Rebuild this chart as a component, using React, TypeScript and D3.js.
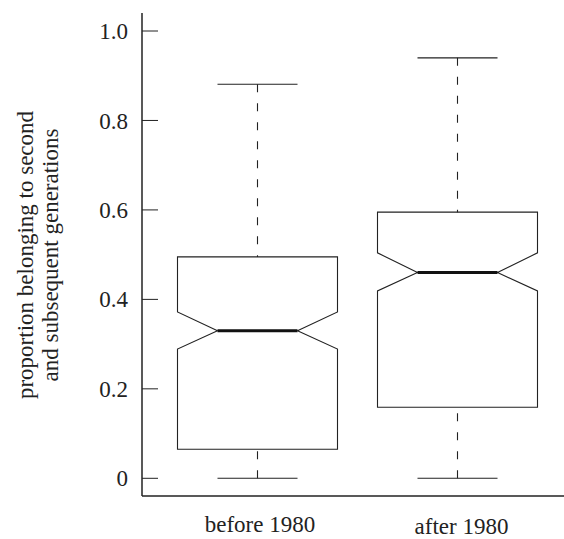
import * as d3 from "d3";
import { useEffect, useRef } from "react";

const categories = ["before 1980", "after 1980"];
const whiskerLow = [0, 0];
const q1 = [0.065, 0.159];
const notchLow = [0.289, 0.419];
const median = [0.33, 0.46];
const notchHigh = [0.372, 0.504];
const q3 = [0.495, 0.595];
const whiskerHigh = [0.881, 0.94];
const tickValues = [0, 0.2, 0.4, 0.6, 0.8, 1.0];
const tickLabels = ["0", "0.2", "0.4", "0.6", "0.8", "1.0"];
const yLabelLines = ["proportion belonging to second", "and subsequent generations"];

const NotchedBoxPlot = () => {
    const ref = useRef<SVGSVGElement>(null);

    useEffect(() => {
        const svg = d3.select(ref.current);
        svg.selectChildren().remove();

        const width = 564;
        const height = 539;
        const axisX = 142;
        const axisBottom = 496;
        const font = "'Liberation Serif', 'Times New Roman', serif";
        const ink = "#222";

        const y = d3.scaleLinear().domain([0, 1]).range([478.3, 31]);
        const x = d3.scaleBand().domain(categories).range([157.5, 557.5]);
        const boxW = x.bandwidth() * 0.8;

        // axes (L-shaped frame)
        svg.append("line")
            .attr("x1", axisX).attr("x2", axisX)
            .attr("y1", 13).attr("y2", axisBottom)
            .attr("stroke", ink).attr("stroke-width", 1.5);
        svg.append("line")
            .attr("x1", axisX).attr("x2", width)
            .attr("y1", axisBottom).attr("y2", axisBottom)
            .attr("stroke", ink).attr("stroke-width", 1.5);

        // y ticks point inward, labels sit to the left
        const ticks = svg.append("g");
        tickValues.forEach((t, i) => {
            ticks.append("line")
                .attr("x1", axisX).attr("x2", axisX + 16)
                .attr("y1", y(t)).attr("y2", y(t))
                .attr("stroke", ink).attr("stroke-width", 1);
            ticks.append("text")
                .attr("x", 128)
                .attr("y", y(t))
                .attr("dy", "0.35em")
                .attr("text-anchor", "end")
                .attr("font-family", font)
                .attr("font-size", 23)
                .attr("fill", ink)
                .text(tickLabels[i]);
        });

        // y axis title, two rotated lines
        yLabelLines.forEach((s, i) => {
            svg.append("text")
                .attr("transform", `translate(${33 + i * 25}, 255) rotate(-90)`)
                .attr("text-anchor", "middle")
                .attr("font-family", font)
                .attr("font-size", 23)
                .attr("fill", ink)
                .text(s);
        });

        // boxes
        categories.forEach((c, i) => {
            const cx = (x(c) ?? 0) + x.bandwidth() / 2;
            const l = cx - boxW / 2, r = cx + boxW / 2;
            const nl = cx - boxW / 4, nr = cx + boxW / 4;
            const g = svg.append("g");

            const pts: [number, number][] = [
                [l, y(q1[i])], [l, y(notchLow[i])], [nl, y(median[i])], [l, y(notchHigh[i])],
                [l, y(q3[i])], [r, y(q3[i])], [r, y(notchHigh[i])], [nr, y(median[i])],
                [r, y(notchLow[i])], [r, y(q1[i])]
            ];
            g.append("path")
                .attr("d", d3.line()(pts) + "Z")
                .attr("fill", "none")
                .attr("stroke", ink)
                .attr("stroke-width", 1.1);

            // median
            g.append("line")
                .attr("x1", nl).attr("x2", nr)
                .attr("y1", y(median[i])).attr("y2", y(median[i]))
                .attr("stroke", "#111").attr("stroke-width", 3);

            // whiskers, dashed, drawn from the ends towards the box
            [[whiskerHigh[i], q3[i]], [whiskerLow[i], q1[i]]].forEach(([end, edge]) => {
                g.append("line")
                    .attr("x1", cx).attr("x2", cx)
                    .attr("y1", y(end)).attr("y2", y(edge))
                    .attr("stroke", ink).attr("stroke-width", 1.1)
                    .attr("stroke-dasharray", "8,11");
                g.append("line")
                    .attr("x1", cx - boxW / 4).attr("x2", cx + boxW / 4)
                    .attr("y1", y(end)).attr("y2", y(end))
                    .attr("stroke", ink).attr("stroke-width", 1.1);
            });
        });

        // category labels (second one sits a little lower, as in the original)
        const labelShift = [[2.5, 532], [4, 534]];
        categories.forEach((c, i) => {
            svg.append("text")
                .attr("x", (x(c) ?? 0) + x.bandwidth() / 2 + labelShift[i][0])
                .attr("y", labelShift[i][1])
                .attr("text-anchor", "middle")
                .attr("font-family", font)
                .attr("font-size", 23)
                .attr("fill", ink)
                .text(c);
        });

        svg.attr("width", width).attr("height", height);
    });

    return (
        <svg ref={ref} width={564} height={539}
            style={{ position: "absolute", left: 0, top: 0, background: "#fff" }} />
    );
};

export default function App() {
    return <NotchedBoxPlot />;
}
